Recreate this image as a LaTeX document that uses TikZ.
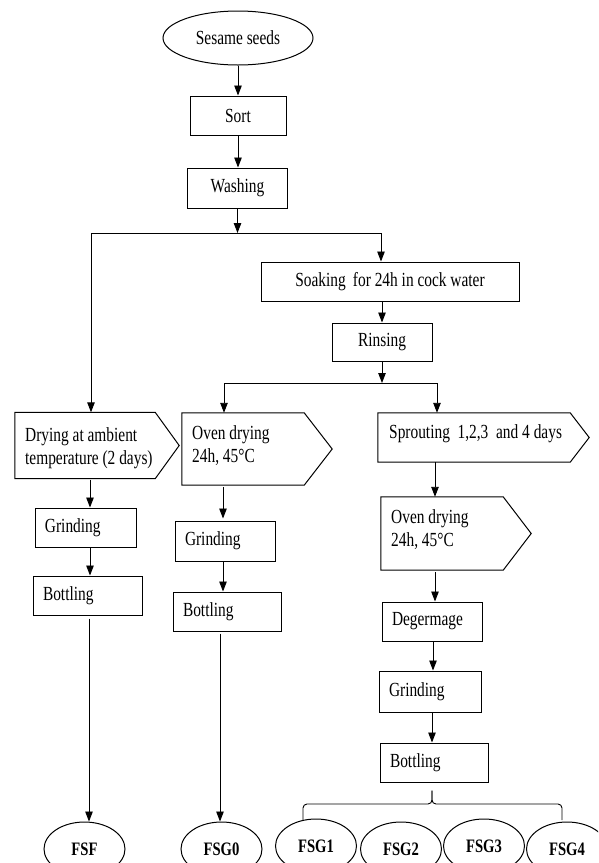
\documentclass[tikz,border=0pt]{standalone}
\usepackage{fontspec}
\setmainfont{Liberation Serif}[FakeStretch=0.77]
\usetikzlibrary{arrows.meta,calc,shapes.geometric}
\begin{document}
\begin{tikzpicture}[x=1pt,y=-1pt,
  every node/.style={font=\fontsize{20}{23}\selectfont},
  ln/.style={line width=0.9pt},
  arr/.style={ln,-{Triangle[length=10pt,width=7.5pt]}},
  shp/.style={line width=1pt},
  cbox/.style={draw,line width=1pt,rectangle,inner sep=0pt,align=center},
  lbox/.style={draw,line width=1pt,rectangle,inner ysep=0pt,inner xsep=10pt,align=left},
  panel/.style={draw=none,rectangle,inner sep=0pt},
  txt/.style={inner sep=0pt,align=left,anchor=west},
  oval/.style={draw,line width=1pt,ellipse,inner sep=0pt},
  bold/.style={oval,font=\fontsize{19}{22}\selectfont\bfseries}]
\clip (0,0) rectangle (598,863);
% column guides
\coordinate (cA) at (90,0);
\coordinate (cB) at (223,0);
\coordinate (cC) at (435,0);
\coordinate (cD) at (433,0);
% top part
\node[oval,minimum width=150,minimum height=54] (seeds) at (238,38) {Sesame seeds};
\node[cbox,minimum width=96,minimum height=39] (sort) at (238,115.5) {Sort};
\node[cbox,minimum width=100,minimum height=40] (wash) at (237.5,188) {Washing};
\coordinate (j1) at (237.5,233);
\coordinate (j1L) at (91,233);
\coordinate (j1R) at (381,233);
\node[cbox,minimum width=258,minimum height=39] (soak) at (390,281.5) {Soaking\, for 24h in cock water};
\node[cbox,minimum width=100,minimum height=38] (rinse) at (382,342) {Rinsing};
\coordinate (j2) at (382,383);
\coordinate (j2L) at (224,383);
\coordinate (j2R) at (437,383);
% pentagon panels
\node[panel,minimum width=140,minimum height=66] (dry) at (85,445.5) {};
\draw[shp] (dry.north west) -- (dry.north east) -- ($(dry.east)+(24,0)$) -- (dry.south east) -- (dry.south west) -- cycle;
\node[txt] (dryt) at (25,448) {Drying at ambient\\temperature (2 days)};
\node[panel,minimum width=122,minimum height=72] (oven1) at (243,449) {};
\draw[shp] (oven1.north west) -- (oven1.north east) -- ($(oven1.east)+(28,0)$) -- (oven1.south east) -- (oven1.south west) -- cycle;
\node[txt] (oven1t) at (192,445.5) {Oven drying\\24h, 45°C};
\node[panel,minimum width=192,minimum height=49] (sprout) at (474,437.5) {};
\draw[shp] (sprout.north west) -- (sprout.north east) -- ($(sprout.east)+(19,0)$) -- (sprout.south east) -- (sprout.south west) -- cycle;
\node[txt] (sproutt) at (389,433.6) {Sprouting\ \ 1,2,3\ \ and 4 days};
\node[panel,minimum width=122,minimum height=73] (oven2) at (442,533.5) {};
\draw[shp] (oven2.north west) -- (oven2.north east) -- ($(oven2.east)+(28,0)$) -- (oven2.south east) -- (oven2.south west) -- cycle;
\node[txt] (oven2t) at (391,530) {Oven drying\\24h, 45°C};
% left column
\node[lbox,text width=81,minimum height=39] (grind1) at (85.5,527.5) {Grinding};
\node[lbox,text width=89,minimum height=39] (bottle1) at (87.5,595.5) {Bottling};
% middle column
\node[lbox,text width=80,minimum height=40] (grind2) at (225,541) {Grinding};
\node[lbox,text width=88,minimum height=39] (bottle2) at (227,611.5) {Bottling};
% right column
\node[lbox,text width=80,minimum height=39] (degerm) at (432,621.5) {Degermage};
\node[lbox,text width=82,minimum height=41] (grind3) at (430,691.5) {Grinding};
\node[lbox,text width=88,minimum height=39] (bottle3) at (434,762.5) {Bottling};
% end products
\node[bold,minimum width=81,minimum height=54] (fsf) at (84.5,849) {FSF};
\node[bold,minimum width=81,minimum height=54] (fsg0) at (221.5,849) {FSG0};
\node[bold,minimum width=81,minimum height=54] (fsg1) at (316,846) {FSG1};
\node[bold,minimum width=81,minimum height=54] (fsg2) at (401,849) {FSG2};
\node[bold,minimum width=81,minimum height=54] (fsg3) at (484,846) {FSG3};
\node[bold,minimum width=81,minimum height=54] (fsg4) at (567,849) {FSG4};
% connectors top
\draw[arr] (seeds.south) -- (seeds.south |- sort.north);
\draw[arr] (sort.south) -- (sort.south |- wash.north);
\draw[arr] (wash.south) -- (j1);
\draw[ln] (j1L) -- (j1R);
\draw[arr] (j1L) -- (j1L |- dry.north);
\draw[arr] (j1R) -- (j1R |- soak.north);
\draw[arr] (soak.south -| rinse.north) -- (rinse.north);
\draw[arr] (rinse.south) -- (j2);
\draw[ln] (j2L) -- (j2R);
\draw[arr] (j2L) -- (j2L |- oven1.north);
\draw[arr] (j2R) -- (j2R |- sprout.north);
% left column connectors
\draw[arr] ([yshift=-1]dry.south -| cA) -- (grind1.north -| cA);
\draw[arr] (grind1.south -| cA) -- (bottle1.north -| cA);
\draw[arr] ([yshift=-3]bottle1.south -| 89,0) -- (fsf.north -| 89,0);
% middle column connectors
\draw[arr] ([yshift=-2]oven1.south -| cB) -- ([yshift=2]grind2.north -| cB);
\draw[arr] (grind2.south -| cB) -- (bottle2.north -| cB);
\draw[arr] ([yshift=-2]bottle2.south -| 220,0) -- (fsg0.north -| 220,0);
% right column connectors
\draw[arr] (sprout.south -| cC) -- (oven2.north -| cC);
\draw[arr] ([yshift=-2]oven2.south -| cC) -- (degerm.north -| cC);
\draw[arr] (degerm.south -| cD) -- (grind3.north -| cD);
\draw[arr] (grind3.south -| 432,0) -- (bottle3.north -| 432,0);
% brace to products
\coordinate (bs) at ([yshift=-8]bottle3.south -| 432,0);
\coordinate (bm) at (432,804);
\coordinate (bl) at (303,820);
\coordinate (br) at (562,820);
\draw[ln,rounded corners=4pt] (bl) -- (bl |- bm) -- (bm) -- (bs);
\draw[ln,rounded corners=4pt] (br) -- (br |- bm) -- (bm) -- (bs);
\end{tikzpicture}
\end{document}
